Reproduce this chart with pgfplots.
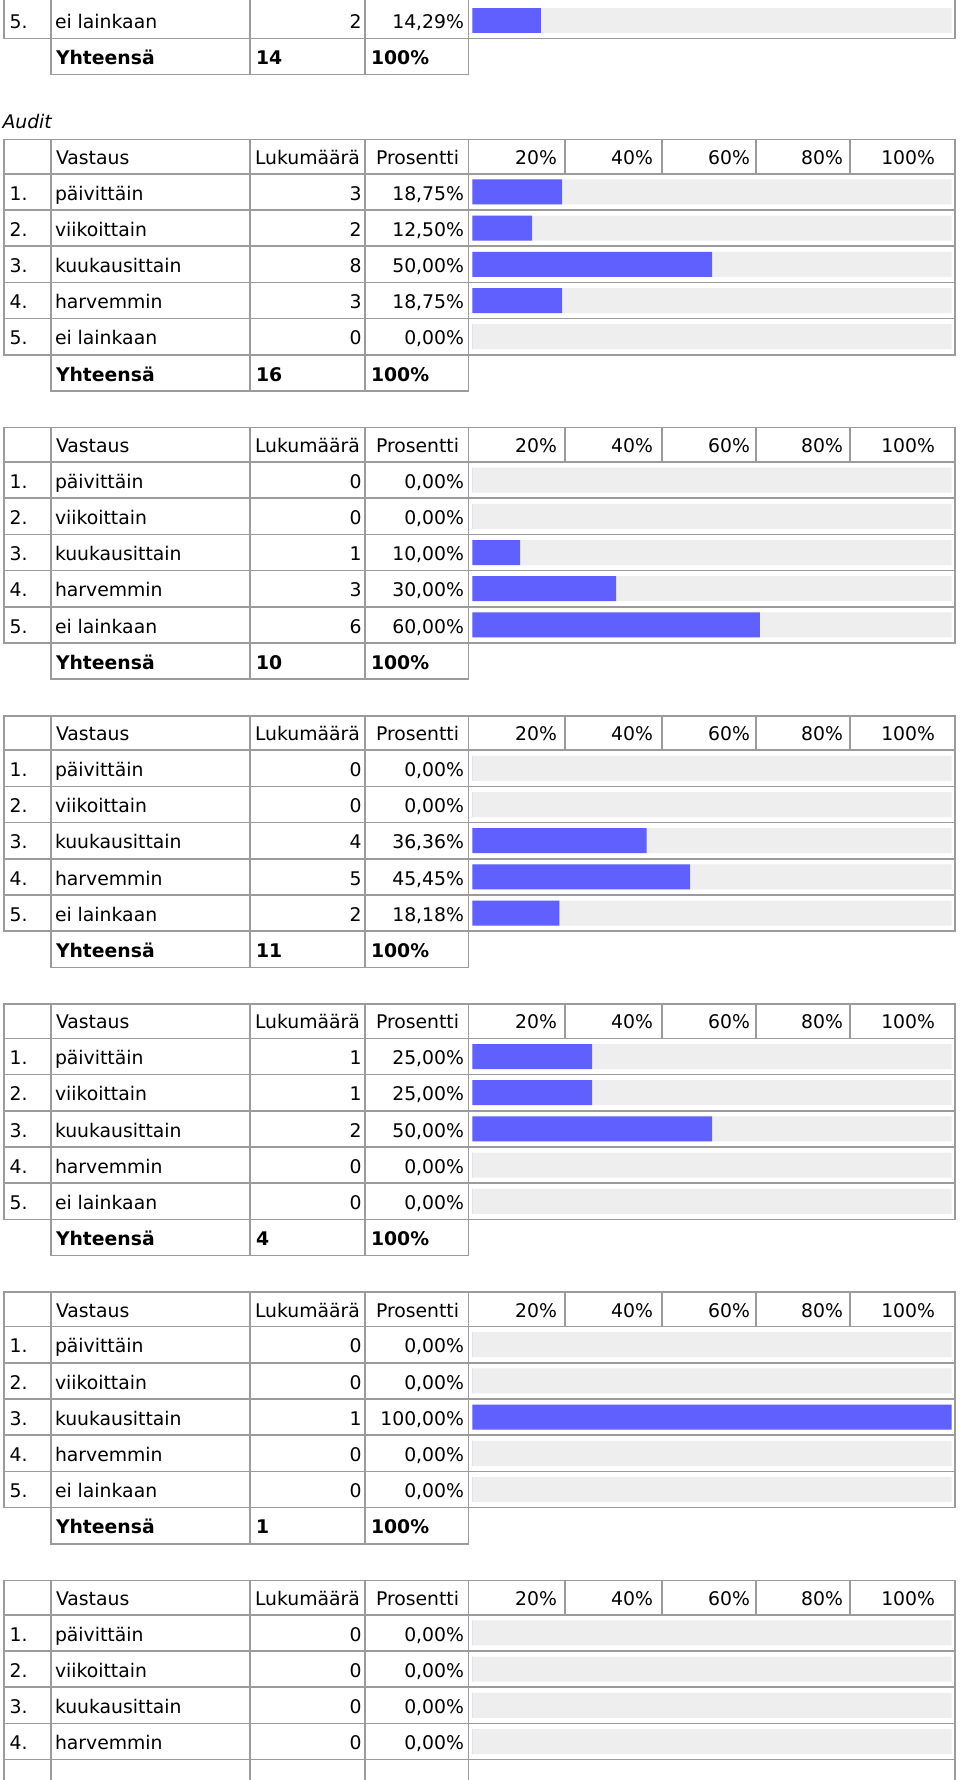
\documentclass[border=0pt]{standalone}
\usepackage{pgfplots}
\pgfplotsset{compat=1.18}
\usepackage{pgfplotstable}
\usepackage{fontspec}
\setmainfont{DejaVu Sans}
\definecolor{barblue}{RGB}{96,96,255}
\definecolor{barbg}{RGB}{238,238,238}
\definecolor{gridc}{RGB}{155,155,155}
\pgfkeys{/pgf/number format/assume math mode=true}

% ---------------- data: r = answer, n = count, p = percent ----------------
\pgfplotstableread{
r n p
5 2 14.29
}\tabZ
\pgfplotstableread{
r n p
1 3 18.75
2 2 12.50
3 8 50.00
4 3 18.75
5 0 0
}\tabA
\pgfplotstableread{
r n p
1 0 0
2 0 0
3 1 10.00
4 3 30.00
5 6 60.00
}\tabB
\pgfplotstableread{
r n p
1 0 0
2 0 0
3 4 36.36
4 5 45.45
5 2 18.18
}\tabC
\pgfplotstableread{
r n p
1 1 25.00
2 1 25.00
3 2 50.00
4 0 0
5 0 0
}\tabD
\pgfplotstableread{
r n p
1 0 0
2 0 0
3 1 100.00
4 0 0
5 0 0
}\tabE
\pgfplotstableread{
r n p
1 0 0
2 0 0
3 0 0
4 0 0
}\tabF

\def\HH{34.5}
\def\RH{36.2}
\newcommand\ans[1]{\ifcase#1\or päivittäin\or viikoittain\or kuukausittain\or harvemmin\or ei lainkaan\fi}

% grid + header of a table whose top is #1
\newcommand\tablegrid[1]{%
  \pgfmathsetmacro\tA{#1}%
  \pgfmathsetmacro\tB{#1+\HH}%
  \pgfmathsetmacro\tC{#1+\HH+5*\RH}%
  \pgfmathsetmacro\tD{#1+\HH+6*\RH}%
  \pgfmathsetmacro\hb{#1+25}%
  \draw[gl] (4,\tA) -- (955,\tA);
  \foreach \k in {0,...,5} {\pgfmathsetmacro\yy{\tB+\k*\RH}\draw[gl] (4,\yy) -- (955,\yy);}
  \foreach \x in {4,50.7,250,365,468.3,955} {\draw[gl] (\x,\tA) -- (\x,\tC);}
  \foreach \x in {565,661.7,755.7,850} {\draw[gl] (\x,\tA) -- (\x,\tB);}
  \foreach \x in {50.7,250,365,468.3} {\draw[gl] (\x,\tC) -- (\x,\tD);}
  \draw[gl] (50.7,\tD) -- (468.3,\tD);
  \node[anchor=base west] at (56,\hb) {Vastaus};
  \node[anchor=base west] at (255,\hb) {Lukumäärä};
  \node[anchor=base west] at (376,\hb) {Prosentti};
  \node[anchor=base east] at (557,\hb) {20\%};
  \node[anchor=base east] at (653,\hb) {40\%};
  \node[anchor=base east] at (750,\hb) {60\%};
  \node[anchor=base east] at (843,\hb) {80\%};
  \node[anchor=base east] at (935,\hb) {100\%};
}

% row texts: #1 top of row 1, #2 table, #3 number of rows
\newcommand\rowtexts[3]{%
  \foreach \i in {1,...,#3} {
    \pgfmathtruncatemacro\ri{\i-1}
    \pgfplotstablegetelem{\ri}{n}\of#2 \let\nn\pgfplotsretval
    \pgfplotstablegetelem{\ri}{p}\of#2 \let\pp\pgfplotsretval
    \pgfplotstablegetelem{\ri}{r}\of#2 \let\rr\pgfplotsretval
    \pgfmathsetmacro\yy{#1+(\rr-1)*\RH+26.3}
    \node[anchor=base west] at (9.7,\yy) {\rr.};
    \node[anchor=base west] at (55,\yy) {\ans{\rr}};
    \node[anchor=base east] at (361.5,\yy) {\nn};
    \node[anchor=base east] at (464,\yy) {\pgfmathprintnumber[fixed,fixed zerofill,precision=2,use comma]{\pp}\%};
  }
}

% total row: #1 top of total row, #2 total
\newcommand\totalrow[2]{%
  \pgfmathsetmacro\yy{#1+26.3}%
  \node[anchor=base west,font=\bfseries\fontsize{18.8}{22}\selectfont] at (56,\yy) {Yhteensä};
  \node[anchor=base west,font=\bfseries\fontsize{18.8}{22}\selectfont] at (256,\yy) {#2};
  \node[anchor=base west,font=\bfseries\fontsize{18.8}{22}\selectfont] at (371,\yy) {100\%};
}

% bars: #1 top of bar rows (px), #2 table, #3 ymin, #4 ymax, #5 height
\newcommand\bars[5]{%
  \begin{axis}[at={(472.3pt,-#1pt)}, anchor=north west, scale only axis,
    width=479.4pt, height=#5pt, xmin=0, xmax=100, ymin=#3, ymax=#4,
    y dir=reverse, hide axis, enlargelimits=false]
    \addplot[xbar, bar width=25pt, bar shift=0pt, fill=barbg, draw=none] table[x expr=100, y=r] {#2};
    \addplot[xbar, bar width=25pt, bar shift=0pt, fill=barblue, draw=none] table[x=p, y=r] {#2};
  \end{axis}%
}

\begin{document}
\begin{tikzpicture}[x=1pt,y=-1pt,
  gl/.style={draw=gridc, line width=1.6pt, line cap=rect},
  every node/.style={inner sep=0pt, outer sep=0pt, font=\fontsize{18.8}{22}\selectfont}]
\useasboundingbox (0,0) rectangle (960,1780);
\fill[white] (0,0) rectangle (960,1780);

% ---- partial table at the top ----
\bars{2.1}{\tabZ}{4.5}{5.5}{36.2}
\foreach \x in {4,50.7,250,365,468.3,955} {\draw[gl] (\x,-2) -- (\x,38.3);}
\draw[gl] (4,38.3) -- (955,38.3);
\foreach \x in {50.7,250,365,468.3} {\draw[gl] (\x,38.3) -- (\x,74.5);}
\draw[gl] (50.7,74.5) -- (468.3,74.5);
\rowtexts{-142.7}{\tabZ}{1}
\totalrow{38.3}{14}

\node[anchor=base west, font=\itshape\fontsize{18.8}{22}\selectfont] at (2.5,128) {Audit};

% ---- table 1 ----
\bars{173.8}{\tabA}{0.5}{5.5}{181}
\tablegrid{139.3}
\rowtexts{173.8}{\tabA}{5}
\totalrow{354.8}{16}
% ---- table 2 ----
\bars{462.0}{\tabB}{0.5}{5.5}{181}
\tablegrid{427.5}
\rowtexts{462.0}{\tabB}{5}
\totalrow{643.0}{10}
% ---- table 3 ----
\bars{750.2}{\tabC}{0.5}{5.5}{181}
\tablegrid{715.7}
\rowtexts{750.2}{\tabC}{5}
\totalrow{931.2}{11}
% ---- table 4 ----
\bars{1038.4}{\tabD}{0.5}{5.5}{181}
\tablegrid{1003.9}
\rowtexts{1038.4}{\tabD}{5}
\totalrow{1219.4}{4}
% ---- table 5 ----
\bars{1326.6}{\tabE}{0.5}{5.5}{181}
\tablegrid{1292.1}
\rowtexts{1326.6}{\tabE}{5}
\totalrow{1507.6}{1}
% ---- table 6 (cut off) ----
\bars{1614.8}{\tabF}{0.5}{5.5}{181}
\tablegrid{1580.3}
\rowtexts{1614.8}{\tabF}{4}
\end{tikzpicture}
\end{document}
